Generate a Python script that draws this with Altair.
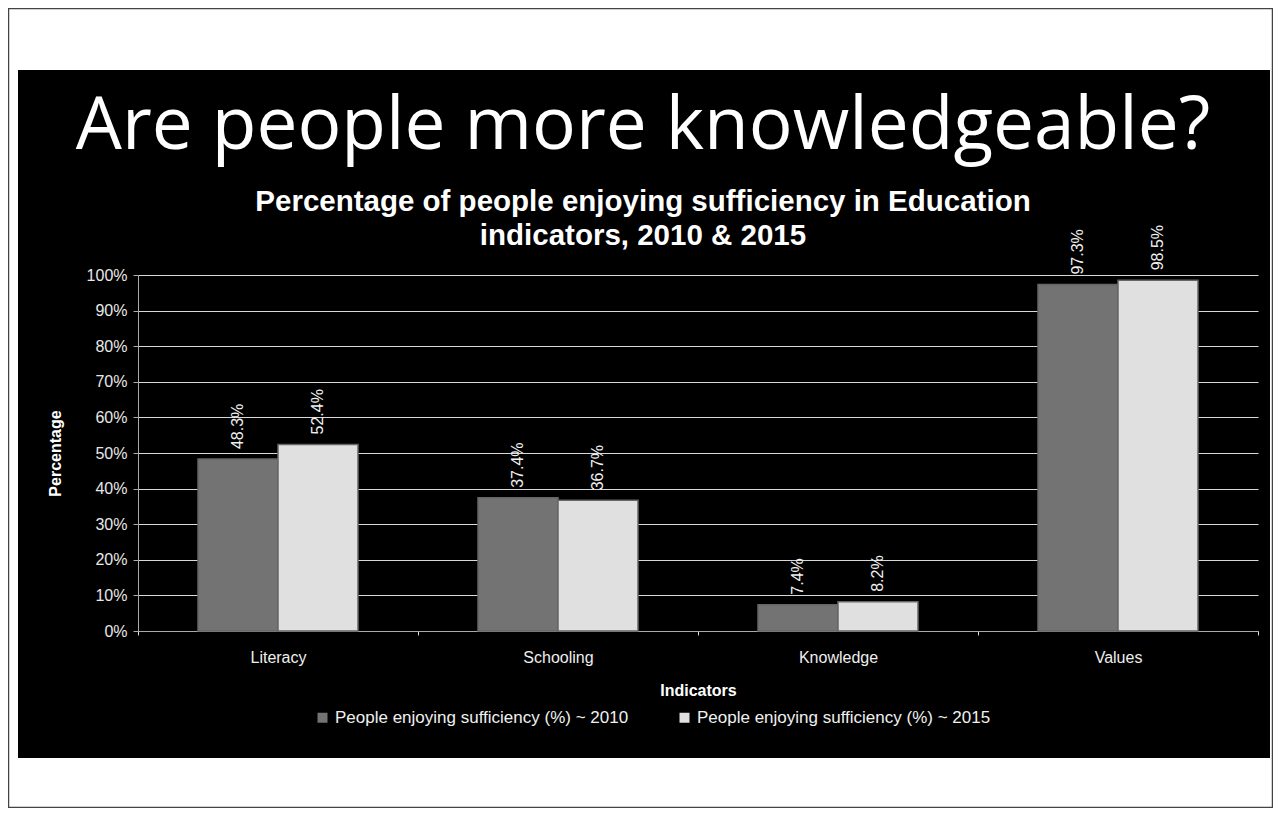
import altair as alt
import pandas as pd

categories = ["Literacy", "Schooling", "Knowledge", "Values"]
series = ["People enjoying sufficiency (%) ~ 2010", "People enjoying sufficiency (%) ~ 2015"]
values_2010 = [48.3, 37.4, 7.4, 97.3]
values_2015 = [52.4, 36.7, 8.2, 98.5]
y_ticks = [0, 0.1, 0.2, 0.3, 0.4, 0.5, 0.6, 0.7, 0.8, 0.9, 1.0]
bar_colors = ["#737373", "#e0e0e0"]
main_title = "Are people more knowledgeable?"
chart_title = ["Percentage of people enjoying sufficiency in Education", "indicators, 2010 & 2015"]

rows = []
for i, c in enumerate(categories):
    rows.append({"Indicator": c, "Series": series[0], "Value": values_2010[i] / 100})
    rows.append({"Indicator": c, "Series": series[1], "Value": values_2015[i] / 100})
df = pd.DataFrame(rows)

FONT = "Liberation Sans"

x_enc = alt.X(
    "Indicator:N", sort=categories,
    scale=alt.Scale(paddingInner=0, paddingOuter=0),
    axis=alt.Axis(
        title="Indicators", titleFont=FONT, titleFontSize=16, titleFontWeight="bold",
        titleColor="white", titlePadding=17,
        labelAngle=0, labelFont=FONT, labelFontSize=16, labelColor="#eeeeee",
        labelPadding=14, tickBand="extent", tickSize=4, tickColor="#dddddd",
        domainColor="#aaaaaa", grid=False,
    ),
)
xo_enc = alt.XOffset("Series:N", sort=series, scale=alt.Scale(paddingOuter=0.75, paddingInner=0))
y_enc = alt.Y(
    "Value:Q",
    scale=alt.Scale(domain=[0, 1], nice=False),
    axis=alt.Axis(
        values=y_ticks, format="%", title="Percentage",
        titleFont=FONT, titleFontSize=16, titleFontWeight="bold", titleColor="white",
        titlePadding=23,
        labelFont=FONT, labelFontSize=16, labelColor="#e8e8e8", labelPadding=6,
        tickSize=5, tickColor="#aaaaaa", domainColor="#aaaaaa",
        grid=True, gridColor="#d8d8d8", gridWidth=1,
    ),
)
color_enc = alt.Color(
    "Series:N", sort=series,
    scale=alt.Scale(domain=series, range=bar_colors),
    legend=alt.Legend(
        title=None, orient="none", legendX=176, legendY=434, direction="horizontal",
        symbolType="square", symbolSize=100, symbolStrokeWidth=0,
        labelFont=FONT, labelFontSize=17, labelColor="#f0f0f0", labelOffset=4,
        columnPadding=47, padding=0, labelLimit=0,
    ),
)

bars = alt.Chart(df).mark_bar(stroke="#666666", strokeWidth=1.5).encode(
    x=x_enc, xOffset=xo_enc, y=y_enc, color=color_enc
)
labels = alt.Chart(df).mark_text(
    angle=270, align="left", baseline="middle", dx=10,
    font=FONT, fontSize=16, color="#f0f0f0",
).encode(x=x_enc, xOffset=xo_enc, y=y_enc, text=alt.Text("Value:Q", format=".1%"))


def frame_rect(x1, x2, y1, y2):
    return alt.Chart(alt.Data(values=[{"k": 1}])).mark_rect(color="white").encode(
        x=alt.value(x1), x2=alt.value(x2), y=alt.value(y1), y2=alt.value(y2)
    )


def title_text(txt, y, font, size, weight):
    return alt.Chart(alt.Data(values=[{"t": txt}])).mark_text(
        align="center", baseline="alphabetic", font=font, fontSize=size,
        fontWeight=weight, color="white",
    ).encode(x=alt.value(505), y=alt.value(y), text="t:N")


strips = [
    frame_rect(-130, -120, -267, 533),
    frame_rect(1132, 1135, -267, 533),
    frame_rect(-130, 1135, -267, -205),
    frame_rect(-130, 1135, 483, 533),
]
border = alt.Chart(alt.Data(values=[{"k": 1}])).mark_rect(
    fill=None, fillOpacity=0, stroke="#444444", strokeWidth=1.5
).encode(x=alt.value(-129.5), x2=alt.value(1134.5), y=alt.value(-266.5), y2=alt.value(532.5))

titles = [
    title_text(main_title, -126, "Open Sans", 73, "normal"),
    title_text(chart_title[0], -64, FONT, 29.5, "bold"),
    title_text(chart_title[1], -30, FONT, 29.5, "bold"),
]

chart = alt.layer(bars, labels, *strips, border, *titles).properties(
    width=1120, height=356,
    autosize=alt.AutoSizeParams(type="none"),
    padding={"left": 130, "top": 267, "right": 15, "bottom": 177},
).configure(background="black").configure_view(stroke=None)

chart.save("out.html", embed_options={"renderer": "svg", "actions": False})
